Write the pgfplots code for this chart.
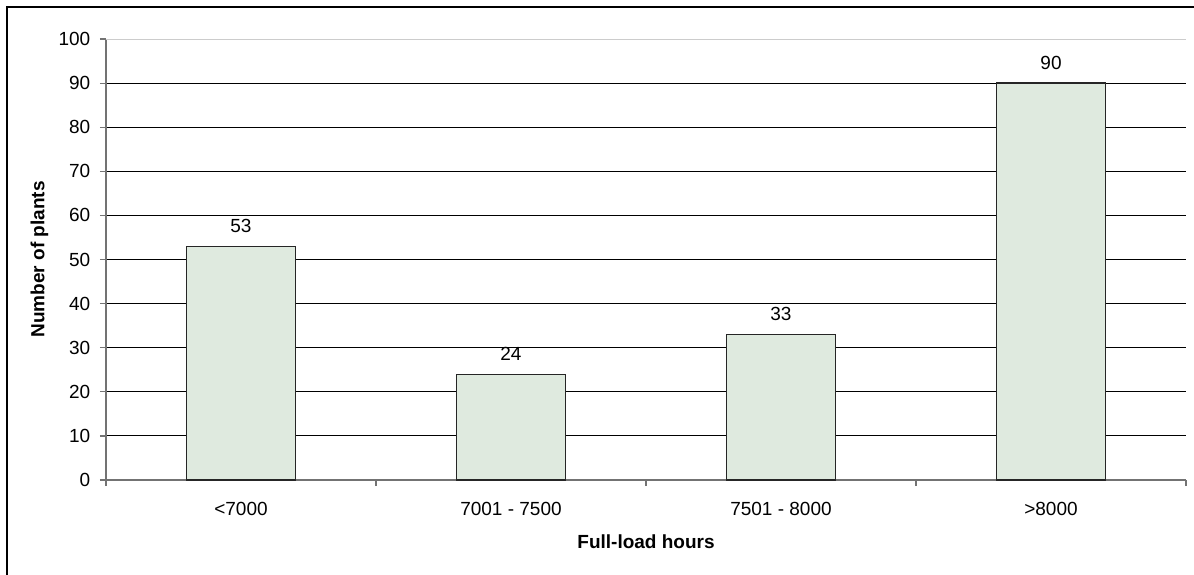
\documentclass[border=0pt]{standalone}
\usepackage{fontspec}
\setmainfont{Liberation Sans}
\usepackage{pgfplots}
\pgfplotsset{compat=1.18}
\definecolor{barfill}{RGB}{223,234,223}
\newcommand{\lbl}{\fontsize{9.5}{11}\selectfont}
\begin{document}
\begin{tikzpicture}
\begin{axis}[
  scale only axis, width=540pt, height=220.5pt,
  xmin=-0.5, xmax=3.5, ymin=0, ymax=100,
  axis x line*=bottom, axis y line*=left,
  axis line style={black!55, line width=0.6pt},
  ytick={0,10,...,100},
  ymajorgrids, grid style={black, line width=0.5pt},
  xtick={-0.5,0.5,1.5,2.5,3.5}, xticklabels={},
  extra x ticks={0,1,2,3},
  extra x tick labels={<7000,7001 - 7500,7501 - 8000,>8000},
  extra x tick style={major tick length=0pt, xticklabel style={anchor=base, yshift=-17.5pt}},
  tick align=outside, major tick length=3pt,
  tick style={black!55, line width=0.6pt},
  /pgf/number format/assume math mode=true,
  ticklabel style={font=\lbl},
  yticklabel style={xshift=-1.34pt},
  every axis y label/.style={at={(axis description cs:-0.0615,0.5)}, rotate=90, anchor=center, font=\lbl\bfseries},
  every axis x label/.style={at={(axis description cs:0.5,0)}, anchor=center, yshift=-30.85pt, font=\lbl\bfseries},
  ylabel={Number of plants},
  xlabel={Full-load hours},
  ybar, bar width=54.5pt,
  nodes near coords,
  every node near coord/.append style={font=\lbl, anchor=south, inner sep=0pt, yshift=6.5pt, text=black},
]
\addplot[fill=barfill, draw=black!85, line width=0.65pt] coordinates {(0,53) (1,24) (2,33) (3,90)};
\draw[black!20, line width=0.6pt] (axis cs:-0.5,100) -- (axis cs:3.5,100);
\coordinate (O) at (rel axis cs:0,0);
\end{axis}
\draw[line width=0.85pt] ([shift={(-49.5pt,-60pt)}]O) -- ([shift={(-49.5pt,236.5pt)}]O) -- ([shift={(600pt,236.5pt)}]O);
\pgfresetboundingbox
\path[use as bounding box] ([shift={(-53pt,-47pt)}]O) rectangle ([shift={(544pt,240pt)}]O);
\end{tikzpicture}
\end{document}
